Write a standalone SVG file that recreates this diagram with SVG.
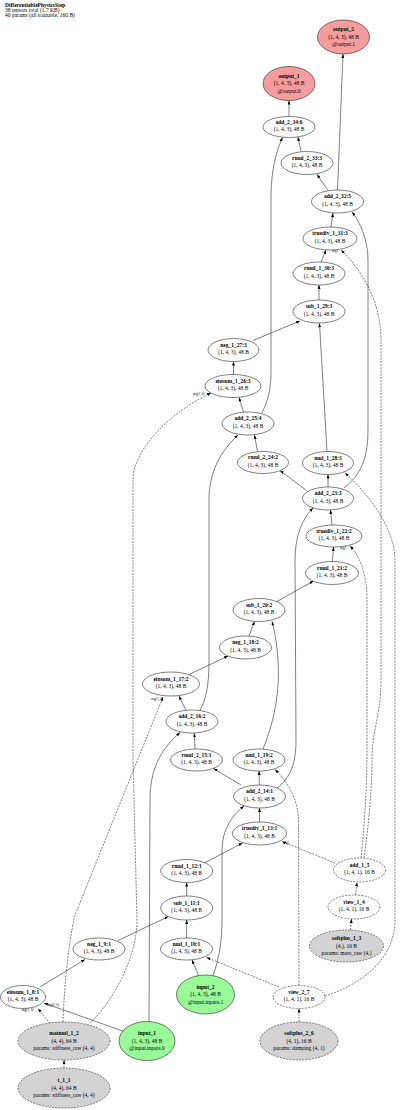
<svg xmlns="http://www.w3.org/2000/svg" width="400" height="1110" viewBox="0 0 400 1110">
<style>
text{font-family:"Liberation Serif","Times New Roman",serif;font-size:5.5px;fill:#000}
.n{font-weight:bold;text-anchor:middle}
.d{text-anchor:middle}
.h{font-size:5.5px}
.lb{font-size:3.6px}
ellipse{stroke:#000;stroke-width:0.5;fill:#fff}
.op{fill:#f59d9d}
.in{fill:#98fb98}
.gr{fill:#d3d3d3;stroke-dasharray:2,1.2}
.ds{stroke-dasharray:2,1.2}
#edges path{fill:none;stroke:#000;stroke-width:0.5;marker-end:url(#ah)}
#edges path.dash{stroke-dasharray:2,1.2}
</style>
<defs>
<marker id="ah" markerUnits="userSpaceOnUse" markerWidth="4" markerHeight="3" refX="4" refY="1.5" orient="auto">
<path d="M0,0 L4,1.5 L0,3 z" fill="#000"/>
</marker>
</defs>
<rect width="400" height="1110" fill="#fff"/>
<g id="header">
<text x="5" y="7" class="h" font-weight="bold">DifferentiablePhysicsStep</text>
<text x="5" y="12" class="h">38 tensors total (1.7 KB)</text>
<text x="5" y="17" class="h">40 params (all trainable, 160 B)</text>
</g>
<g id="edges">
<path d="M289,116.5 L289,100.5"/>
<path d="M337.5,190 L343,54"/>
<path d="M301,151.5 L298,137"/>
<path d="M328,190.5 L317,174.5"/>
<path d="M262,413 C268,400 271,390 271,370 L271,200 C271,170 276,152 282.5,137.5"/>
<path d="M331,227 L333,213"/>
<path d="M344,488 C360,475 368,460 368,430 L368,260 C368,240 360,222 352,212"/>
<path d="M321,262 L326,250"/>
<path class="dash" d="M364,858 C368,830 372,790 372,760 C372,730 381,715 381,680 L381,340 C381,300 360,268 341,250"/>
<path d="M319,300 L319,285"/>
<path d="M253,340.5 L300,321"/>
<path d="M327,451.5 L319.5,323.5"/>
<path d="M233.5,374.5 L233.5,361.5"/>
<path d="M243.5,412 L239,397.5"/>
<path class="dash" d="M90,1023 C110,1005 137,960 137,920 L133,760 L133,480 C133,450 170,412 211,393"/>
<path d="M257.5,451.5 L254.5,435"/>
<path d="M200,710.5 C205,700 209,690 209,660 L209,500 C209,470 222,450 238,435"/>
<path d="M328,487 L328,474.5"/>
<path class="dash" d="M325,996 C360,985 395,960 395,920 L395,560 C395,530 370,495 345,473"/>
<path d="M306.5,490.5 L280,470.5"/>
<path d="M332,525 L330.5,510"/>
<path d="M277,788 C290,778 296,765 296,740 L295,560 C295,535 303,518 313,508"/>
<path class="dash" d="M361,858 C364,830 367,790 367,750 L367,600 C367,575 360,556 350,546"/>
<path d="M332.5,561.5 L333.5,547"/>
<path d="M276,602 L313.5,581"/>
<path d="M249,636 L254.5,621.5"/>
<path d="M263,749 C275,720 280,690 278,660 C277,645 275,632 272,621.5"/>
<path d="M188,675 L228,656"/>
<path class="dash" d="M63,1022 C64,990 68,945 75,915 L163,697"/>
<path d="M186,710.5 L179,696"/>
<path d="M195,749 L194.3,733.3"/>
<path d="M149,1021.5 L150,800 C150,770 160,750 180,732.5"/>
<path d="M241,785 L213.5,768.5"/>
<path d="M259.3,785 L259.1,771"/>
<path class="dash" d="M299,985.5 L298.5,820 C298,800 288,782 275,769.5"/>
<path d="M259.5,822 L259.5,808"/>
<path d="M213,975.5 C219,960 222,940 222,920 L222,850 C222,830 232,815 244,806"/>
<path d="M205,862.7 L242.5,843"/>
<path class="dash" d="M335,863 L282,841.5"/>
<path d="M186.7,896 L186.7,882.5"/>
<path d="M118,940.5 L168.5,916.5"/>
<path d="M186.5,938 L186.7,920"/>
<path d="M40,987 L85,959.5"/>
<path d="M198.5,975.5 L192,960"/>
<path class="dash" d="M279,987 L206.5,957.5"/>
<path class="dash" d="M50,1023.5 L38,1008.5"/>
<path d="M124,1031.5 L44,1003"/>
<path class="dash" d="M299,1022 L299,1008.5"/>
<path class="dash" d="M64,1068 L64,1060"/>
<path class="dash" d="M350.5,930 L351.5,919"/>
<path class="dash" d="M355.5,895 L357,882.5"/>
<text class="lb" x="193" y="395">arg(1,0)</text>
<text class="lb" x="151" y="699.5">arg(1, 0)</text>
<text class="lb" x="21.5" y="1010.5">arg(1, 0)</text>
<text class="lb" x="47" y="1006">arg(0, 0)</text>
<text class="lb" x="332" y="252">arg1</text>
<text class="lb" x="340" y="549">arg1</text>
<text class="lb" x="283" y="844">arg1</text>
</g>
<g id="output_2"><ellipse class="op" cx="343.5" cy="37" rx="26" ry="17"/><text class="n" x="343.5" y="31.2">output_2</text><text class="d" x="343.5" y="38.7">(1, 4, 3), 48 B</text><text class="d" x="343.5" y="46.2">@output.1</text></g>
<g id="output_1"><ellipse class="op" cx="289" cy="83.5" rx="26" ry="17"/><text class="n" x="289" y="77.7">output_1</text><text class="d" x="289" y="85.2">(1, 4, 3), 48 B</text><text class="d" x="289" y="92.7">@output.0</text></g>
<g id="add_2_34_6"><ellipse cx="289" cy="127" rx="26" ry="10.5"/><text class="n" x="289" y="123.5">add_2_34:6</text><text class="d" x="289" y="131">(1, 4, 3), 48 B</text></g>
<g id="rmul_2_33_3"><ellipse cx="307" cy="163" rx="26" ry="11.5"/><text class="n" x="307" y="159.5">rmul_2_33:3</text><text class="d" x="307" y="167">(1, 4, 3), 48 B</text></g>
<g id="add_2_32_5"><ellipse cx="337.5" cy="201.5" rx="26" ry="11.5"/><text class="n" x="337.5" y="198">add_2_32:5</text><text class="d" x="337.5" y="205.5">(1, 4, 3), 48 B</text></g>
<g id="truediv_1_31_3"><ellipse cx="330" cy="238.5" rx="27" ry="11.5"/><text class="n" x="330" y="235">truediv_1_31:3</text><text class="d" x="330" y="242.5">(1, 4, 3), 48 B</text></g>
<g id="rmul_1_30_3"><ellipse cx="319" cy="273.5" rx="26" ry="11.5"/><text class="n" x="319" y="270">rmul_1_30:3</text><text class="d" x="319" y="277.5">(1, 4, 3), 48 B</text></g>
<g id="sub_1_29_3"><ellipse cx="319" cy="311.5" rx="26" ry="11.5"/><text class="n" x="319" y="308">sub_1_29:3</text><text class="d" x="319" y="315.5">(1, 4, 3), 48 B</text></g>
<g id="neg_1_27_3"><ellipse cx="233.5" cy="350" rx="25.5" ry="11.5"/><text class="n" x="233.5" y="346.5">neg_1_27:3</text><text class="d" x="233.5" y="354">(1, 4, 3), 48 B</text></g>
<g id="einsum_1_26_3"><ellipse cx="233" cy="386" rx="28" ry="11.5"/><text class="n" x="233" y="382.5">einsum_1_26:3</text><text class="d" x="233" y="390">(1, 4, 3), 48 B</text></g>
<g id="add_2_25_4"><ellipse cx="248" cy="423.5" rx="26" ry="11.5"/><text class="n" x="248" y="420">add_2_25:4</text><text class="d" x="248" y="427.5">(1, 4, 3), 48 B</text></g>
<g id="rmul_2_24_2"><ellipse cx="263" cy="462.5" rx="25.5" ry="11"/><text class="n" x="263" y="459">rmul_2_24:2</text><text class="d" x="263" y="466.5">(1, 4, 3), 48 B</text></g>
<g id="mul_1_28_3"><ellipse cx="328" cy="463" rx="25.5" ry="11.5"/><text class="n" x="328" y="459.5">mul_1_28:3</text><text class="d" x="328" y="467">(1, 4, 3), 48 B</text></g>
<g id="add_2_23_3"><ellipse cx="328" cy="498.5" rx="25.5" ry="11.5"/><text class="n" x="328" y="495">add_2_23:3</text><text class="d" x="328" y="502.5">(1, 4, 3), 48 B</text></g>
<g id="truediv_1_22_2"><ellipse cx="334" cy="536" rx="28" ry="11"/><text class="n" x="334" y="532.5">truediv_1_22:2</text><text class="d" x="334" y="540">(1, 4, 3), 48 B</text></g>
<g id="rmul_1_21_2"><ellipse cx="332" cy="573" rx="26.5" ry="11.5"/><text class="n" x="332" y="569.5">rmul_1_21:2</text><text class="d" x="332" y="577">(1, 4, 3), 48 B</text></g>
<g id="sub_1_20_2"><ellipse cx="259" cy="610" rx="26" ry="11.5"/><text class="n" x="259" y="606.5">sub_1_20:2</text><text class="d" x="259" y="614">(1, 4, 3), 48 B</text></g>
<g id="neg_1_18_2"><ellipse cx="245.5" cy="647.5" rx="26" ry="11.5"/><text class="n" x="245.5" y="644">neg_1_18:2</text><text class="d" x="245.5" y="651.5">(1, 4, 3), 48 B</text></g>
<g id="einsum_1_17_2"><ellipse cx="171" cy="684" rx="28.5" ry="12"/><text class="n" x="171" y="680.5">einsum_1_17:2</text><text class="d" x="171" y="688">(1, 4, 3), 48 B</text></g>
<g id="add_2_16_2"><ellipse cx="192" cy="721.5" rx="26" ry="11.5"/><text class="n" x="192" y="718">add_2_16:2</text><text class="d" x="192" y="725.5">(1, 4, 3), 48 B</text></g>
<g id="rmul_2_15_1"><ellipse cx="196.5" cy="760" rx="26" ry="11"/><text class="n" x="196.5" y="756.5">rmul_2_15:1</text><text class="d" x="196.5" y="764">(1, 4, 3), 48 B</text></g>
<g id="mul_1_19_2"><ellipse cx="259" cy="760" rx="26" ry="11"/><text class="n" x="259" y="756.5">mul_1_19:2</text><text class="d" x="259" y="764">(1, 4, 3), 48 B</text></g>
<g id="add_2_14_1"><ellipse cx="259.5" cy="796.5" rx="26" ry="11.5"/><text class="n" x="259.5" y="793">add_2_14:1</text><text class="d" x="259.5" y="800.5">(1, 4, 3), 48 B</text></g>
<g id="truediv_1_13_1"><ellipse cx="259.5" cy="833.5" rx="27" ry="11.5"/><text class="n" x="259.5" y="830">truediv_1_13:1</text><text class="d" x="259.5" y="837.5">(1, 4, 3), 48 B</text></g>
<g id="rmul_1_12_1"><ellipse cx="186.7" cy="871" rx="26" ry="11.5"/><text class="n" x="186.7" y="867.5">rmul_1_12:1</text><text class="d" x="186.7" y="875">(1, 4, 3), 48 B</text></g>
<g id="sub_1_11_1"><ellipse cx="186.7" cy="908" rx="26" ry="12"/><text class="n" x="186.7" y="904.5">sub_1_11:1</text><text class="d" x="186.7" y="912">(1, 4, 3), 48 B</text></g>
<g id="add_1_5"><ellipse class="ds" cx="359.5" cy="870" rx="26" ry="12"/><text class="n" x="359.5" y="866.5">add_1_5</text><text class="d" x="359.5" y="874">(1, 4, 1), 16 B</text></g>
<g id="view_1_4"><ellipse class="ds" cx="354" cy="907" rx="26" ry="12"/><text class="n" x="354" y="903.5">view_1_4</text><text class="d" x="354" y="911">(1, 4, 1), 16 B</text></g>
<g id="neg_1_9_1"><ellipse cx="99" cy="949" rx="26" ry="11"/><text class="n" x="99" y="945.5">neg_1_9:1</text><text class="d" x="99" y="953">(1, 4, 3), 48 B</text></g>
<g id="mul_1_10_1"><ellipse cx="186.5" cy="949" rx="26" ry="11"/><text class="n" x="186.5" y="945.5">mul_1_10:1</text><text class="d" x="186.5" y="953">(1, 4, 3), 48 B</text></g>
<g id="softplus_1_3"><ellipse class="gr" cx="346.5" cy="946" rx="37" ry="16"/><text class="n" x="346.5" y="940.2">softplus_1_3</text><text class="d" x="346.5" y="947.7">(4,), 16 B</text><text class="d" x="346.5" y="955.2">params: mass_raw (4,)</text></g>
<g id="einsum_1_8_1"><ellipse cx="23" cy="997" rx="22.5" ry="11.5"/><text class="n" x="23" y="993.5">einsum_1_8:1</text><text class="d" x="23" y="1001">(1, 4, 3), 48 B</text></g>
<g id="input_2"><ellipse class="in" cx="205.5" cy="994.5" rx="29" ry="19.5"/><text class="n" x="205.5" y="988.7">input_2</text><text class="d" x="205.5" y="996.2">(1, 4, 3), 48 B</text><text class="d" x="205.5" y="1003.7">@input.inputs.1</text></g>
<g id="view_2_7"><ellipse class="ds" cx="299" cy="997" rx="26" ry="11.5"/><text class="n" x="299" y="993.5">view_2_7</text><text class="d" x="299" y="1001">(1, 4, 1), 16 B</text></g>
<g id="matmul_1_2"><ellipse class="gr" cx="64" cy="1041" rx="46" ry="19"/><text class="n" x="64" y="1035.2">matmul_1_2</text><text class="d" x="64" y="1042.7">(4, 4), 64 B</text><text class="d" x="64" y="1050.2">params: stiffness_raw (4, 4)</text></g>
<g id="input_1"><ellipse class="in" cx="147" cy="1041" rx="28" ry="19.5"/><text class="n" x="147" y="1035.2">input_1</text><text class="d" x="147" y="1042.7">(1, 4, 3), 48 B</text><text class="d" x="147" y="1050.2">@input.inputs.0</text></g>
<g id="softplus_2_6"><ellipse class="gr" cx="299" cy="1041" rx="39" ry="19"/><text class="n" x="299" y="1035.2">softplus_2_6</text><text class="d" x="299" y="1042.7">(4, 1), 16 B</text><text class="d" x="299" y="1050.2">params: damping (4, 1)</text></g>
<g id="t_1_1"><ellipse class="gr" cx="64" cy="1088" rx="46" ry="20"/><text class="n" x="64" y="1082.2">t_1_1</text><text class="d" x="64" y="1089.7">(4, 4), 64 B</text><text class="d" x="64" y="1097.2">params: stiffness_raw (4, 4)</text></g>
</svg>
